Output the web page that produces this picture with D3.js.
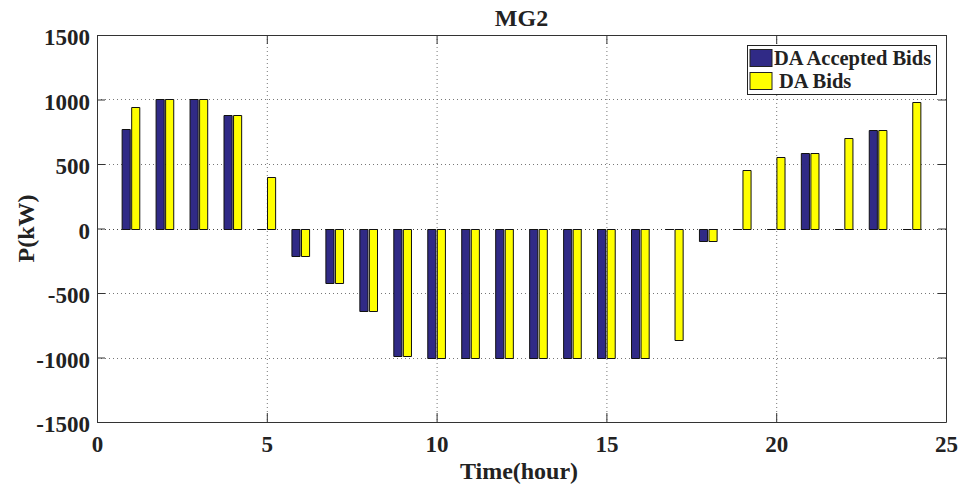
<!DOCTYPE html>
<html>
<head>
<meta charset="utf-8">
<script src="https://cdn.jsdelivr.net/npm/d3@7"></script>
<style>
    body { margin: 0; background: #fff; }
    text { font-family: "Liberation Serif", "Times New Roman", serif; font-weight: bold; fill: #222; }
</style>
</head>
<body>
<script>
"use strict";

// Data
const hours = d3.range(1, 25)
const acceptedBids = [770, 1000, 1000, 880, 0, -210, -425, -640, -990, -1000, -1000, -1000, -1000, -1000, -1000, -1000, 0, -95, 0, 0, 585, 0, 760, 0]
const daBids = [940, 1000, 1000, 880, 400, -210, -425, -640, -990, -1000, -1000, -1000, -1000, -1000, -1000, -1000, -865, -95, 455, 555, 585, 700, 760, 980]
const seriesNames = ["DA Accepted Bids", "DA Bids"]
const xTicks = [0, 5, 10, 15, 20, 25]
const yTicks = [-1500, -1000, -500, 0, 500, 1000, 1500]

// Colors
const colors = { "DA Accepted Bids": "#302a86", "DA Bids": "#ffff00" }

// Dimensions
const measurements = { width: 959, height: 489, left: 97, right: 946, top: 35, bottom: 422 }

const svg = d3.select("body").append("svg")
    .attr("width", measurements.width)
    .attr("height", measurements.height)

const scaleX = d3.scaleLinear().domain([0, 25]).range([measurements.left, measurements.right])
const scaleY = d3.scaleLinear().domain([-1500, 1500]).range([measurements.bottom, measurements.top])

// grid
svg.append("g").selectAll("line")
    .data(xTicks.slice(1, -1))
    .enter().append("line")
    .attr("x1", d => scaleX(d) + 0.5).attr("x2", d => scaleX(d) + 0.5)
    .attr("y1", measurements.top).attr("y2", measurements.bottom)
    .attr("stroke", "#777").attr("stroke-dasharray", "1,3")

svg.append("g").selectAll("line")
    .data(yTicks.slice(1, -1))
    .enter().append("line")
    .attr("x1", measurements.left).attr("x2", measurements.right)
    .attr("y1", d => Math.round(scaleY(d)) + 0.5).attr("y2", d => Math.round(scaleY(d)) + 0.5)
    .attr("stroke", d => d === 0 ? "#444" : "#777").attr("stroke-dasharray", "1,3")

// bars
const table = hours.map((h, i) => ({ hour: h, values: [acceptedBids[i], daBids[i]] }))
const inner = d3.scaleBand().domain(seriesNames).paddingInner(0.15)

const groups = svg.append("g").selectAll("g")
    .data(table)
    .enter().append("g")

groups.selectAll("path")
    .data(d => seriesNames.map((s, j) => ({ hour: d.hour, name: s, value: d.values[j] })))
    .enter().append("path")
    .attr("d", d => {
        inner.range([scaleX(d.hour - 0.26), scaleX(d.hour + 0.26)])
        const x0 = inner(d.name), x1 = x0 + inner.bandwidth()
        const y0 = Math.round(scaleY(0)) + 0.5, y1 = Math.round(scaleY(d.value)) + 0.5
        return "M" + x0 + "," + y0 + "H" + x1 + "V" + y1 + "H" + x0 + "Z"
    })
    .attr("fill", d => colors[d.name])
    .attr("stroke", "#111")
    .attr("stroke-width", 1)

// axes box
const fmt = d => String(d)
const xAxisB = d3.axisBottom(scaleX).tickValues(xTicks).tickSizeInner(-9).tickSizeOuter(0).tickPadding(14).tickFormat(fmt)
const xAxisT = d3.axisTop(scaleX).tickValues(xTicks).tickSizeInner(-9).tickSizeOuter(0).tickFormat("")
const yAxisL = d3.axisLeft(scaleY).tickValues(yTicks).tickSizeInner(-8).tickSizeOuter(0).tickPadding(7).tickFormat(fmt)
const yAxisR = d3.axisRight(scaleY).tickValues(yTicks).tickSizeInner(-8).tickSizeOuter(0).tickFormat("")

const gxb = svg.append("g").attr("transform", "translate(0," + measurements.bottom + ")").call(xAxisB)
const gxt = svg.append("g").attr("transform", "translate(0," + measurements.top + ")").call(xAxisT)
const gyl = svg.append("g").attr("transform", "translate(" + measurements.left + ",0)").call(yAxisL)
const gyr = svg.append("g").attr("transform", "translate(" + measurements.right + ",0)").call(yAxisR)

svg.selectAll(".domain, .tick line").attr("stroke", "#333")
svg.selectAll(".tick text")
    .style("font-family", "'Liberation Serif', serif")
    .style("font-weight", "bold")
    .style("font-size", "23px")
    .attr("fill", "#222")
gyl.selectAll(".tick text").attr("dy", "0.42em")

// labels
svg.append("text")
    .attr("text-anchor", "middle")
    .attr("x", (measurements.left + measurements.right) / 2)
    .attr("y", 26)
    .style("font-size", "24px")
    .text("MG2")

svg.append("text")
    .attr("text-anchor", "middle")
    .attr("x", 519)
    .attr("y", 479)
    .style("font-size", "24px")
    .text("Time(hour)")

svg.append("text")
    .attr("text-anchor", "middle")
    .attr("transform", "translate(34," + (measurements.top + measurements.bottom) / 2 + ")rotate(-90)")
    .style("font-size", "24px")
    .text("P(kW)")

// legend
const legend = svg.append("g")
legend.append("rect")
    .attr("x", 747.5).attr("y", 45.5)
    .attr("width", 189).attr("height", 49)
    .attr("fill", "#fff").attr("stroke", "#222")

const items = legend.selectAll(".legend")
    .data(seriesNames)
    .enter().append("g")
    .attr("class", "legend")
    .attr("transform", (d, i) => "translate(0," + i * 23 + ")")

items.append("rect")
    .attr("x", 750).attr("y", 49.5)
    .attr("width", 22).attr("height", 17)
    .attr("fill", d => colors[d]).attr("stroke", "#222")

items.append("text")
    .attr("x", (d, i) => i === 0 ? 774 : 779)
    .attr("y", 65)
    .style("font-size", "20.5px")
    .text(d => d)
</script>
</body>
</html>
